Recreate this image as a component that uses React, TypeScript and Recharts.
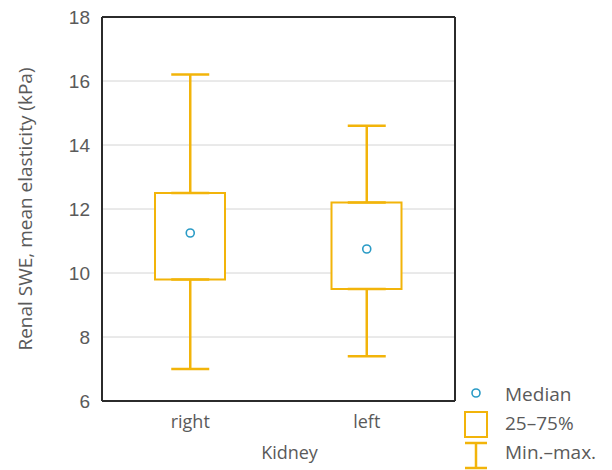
import { ComposedChart, Bar, Line, ErrorBar, XAxis, YAxis, CartesianGrid, Legend } from "recharts";

// Renal SWE per kidney (kPa)
const kidneys = ["right", "left"];
const minVals = [7.0, 7.4];
const q1Vals = [9.8, 9.5];
const medianVals = [11.25, 10.75];
const q3Vals = [12.5, 12.2];
const maxVals = [16.2, 14.6];
const yTicks = [6, 8, 10, 12, 14, 16, 18];

const GOLD = "#F2B40A";
const TEAL = "#2A9BC6";
const INK = "#2b2b2b";
const TEXT = "#5a5a5a";
const SANS = "'Open Sans', sans-serif";

const data = kidneys.map((k, i) => ({
  kidney: k,
  box: [q1Vals[i], q3Vals[i]],
  q1: q1Vals[i],
  q3: q3Vals[i],
  median: medianVals[i],
  upper: [0, maxVals[i] - q3Vals[i]],
  lower: [q1Vals[i] - minVals[i], 0],
}));

function LegendBox() {
  const txt = { fill: TEXT, fontSize: 19, fontFamily: SANS };
  return (
    <svg width={150} height={92}>
      <circle cx={16} cy={13} r={4} fill="#fff" stroke={TEAL} strokeWidth={1.6} />
      <text x={45} y={16} dominantBaseline="middle" {...txt}>Median</text>
      <rect x={5} y={32} width={22} height={25} fill="#fff" stroke={GOLD} strokeWidth={2} />
      <text x={45} y={45} dominantBaseline="middle" {...txt}>25–75%</text>
      <line x1={5} x2={27} y1={63} y2={63} stroke={GOLD} strokeWidth={2.5} />
      <line x1={16} x2={16} y1={63} y2={88} stroke={GOLD} strokeWidth={2.5} />
      <line x1={5} x2={27} y1={88} y2={88} stroke={GOLD} strokeWidth={2.5} />
      <text x={45} y={74} dominantBaseline="middle" {...txt}>Min.–max.</text>
    </svg>
  );
}

export default function App() {
  return (
    <div style={{ position: "absolute", left: 0, top: 0, width: 612, height: 470, background: "#fff" }}>
      <ComposedChart width={612} height={470} data={data} margin={{ top: 17, right: 157, left: 0, bottom: 0 }}>
        <CartesianGrid vertical={false} stroke="#d4d4d4" xAxisId="b" yAxisId="l" />
        {/* mirrored axes: frame + inward tick marks, they take no space */}
        <XAxis xAxisId="bt" dataKey="kidney" height={30} mirror axisLine={false} tick={false}
          tickSize={5} tickLine={{ stroke: INK, strokeWidth: 1.5 }} />
        <XAxis xAxisId="t" orientation="top" dataKey="kidney" height={30} mirror tick={false}
          tickSize={5} tickLine={{ stroke: INK, strokeWidth: 1.5 }} axisLine={{ stroke: INK, strokeWidth: 2 }} />
        <XAxis xAxisId="b" dataKey="kidney" height={69} tickLine={false} tickMargin={8}
          axisLine={{ stroke: INK, strokeWidth: 2 }}
          tick={{ fill: TEXT, fontSize: 18, fontFamily: SANS }}
          label={{ value: "Kidney", position: "insideBottom", offset: 11, dx: 11, fill: TEXT, fontSize: 18, fontFamily: SANS }} />
        <YAxis yAxisId="l" width={102} domain={[6, 18]} ticks={yTicks} type="number" tickLine={false} tickMargin={6}
          axisLine={{ stroke: INK, strokeWidth: 2 }}
          tick={{ fill: TEXT, fontSize: 19, fontFamily: "'Liberation Sans', Arial, sans-serif" }}
          label={{ value: "Renal SWE, mean elasticity (kPa)", angle: -90, position: "insideLeft", offset: 25,
            style: { textAnchor: "middle", fill: TEXT, fontSize: 19, fontFamily: SANS } }} />
        <YAxis yAxisId="r" orientation="right" width={30} mirror domain={[6, 18]} ticks={yTicks} type="number"
          tick={false} tickSize={5} tickLine={{ stroke: INK, strokeWidth: 1.5 }} axisLine={{ stroke: INK, strokeWidth: 2 }} />

        {/* whiskers: q3 -> max and min -> q1 */}
        <Line xAxisId="b" yAxisId="l" dataKey="q3" stroke="none" dot={false} activeDot={false} isAnimationActive={false} legendType="none">
          <ErrorBar dataKey="upper" width={19} stroke={GOLD} strokeWidth={2.5} direction="y" />
        </Line>
        <Line xAxisId="b" yAxisId="l" dataKey="q1" stroke="none" dot={false} activeDot={false} isAnimationActive={false} legendType="none">
          <ErrorBar dataKey="lower" width={19} stroke={GOLD} strokeWidth={2.5} direction="y" />
        </Line>
        {/* 25–75% box */}
        <Bar xAxisId="b" yAxisId="l" dataKey="box" barSize={70} fill="#fff" stroke={GOLD} strokeWidth={2} isAnimationActive={false} />
        {/* median */}
        <Line xAxisId="b" yAxisId="l" dataKey="median" stroke="none" isAnimationActive={false} activeDot={false}
          dot={{ r: 4, fill: "#fff", stroke: TEAL, strokeWidth: 1.6 }} />

        <Legend layout="vertical" align="center" verticalAlign="middle" content={() => <LegendBox />}
          wrapperStyle={{ left: 460, top: 380, width: 150, height: 92 }} />
      </ComposedChart>
    </div>
  );
}
